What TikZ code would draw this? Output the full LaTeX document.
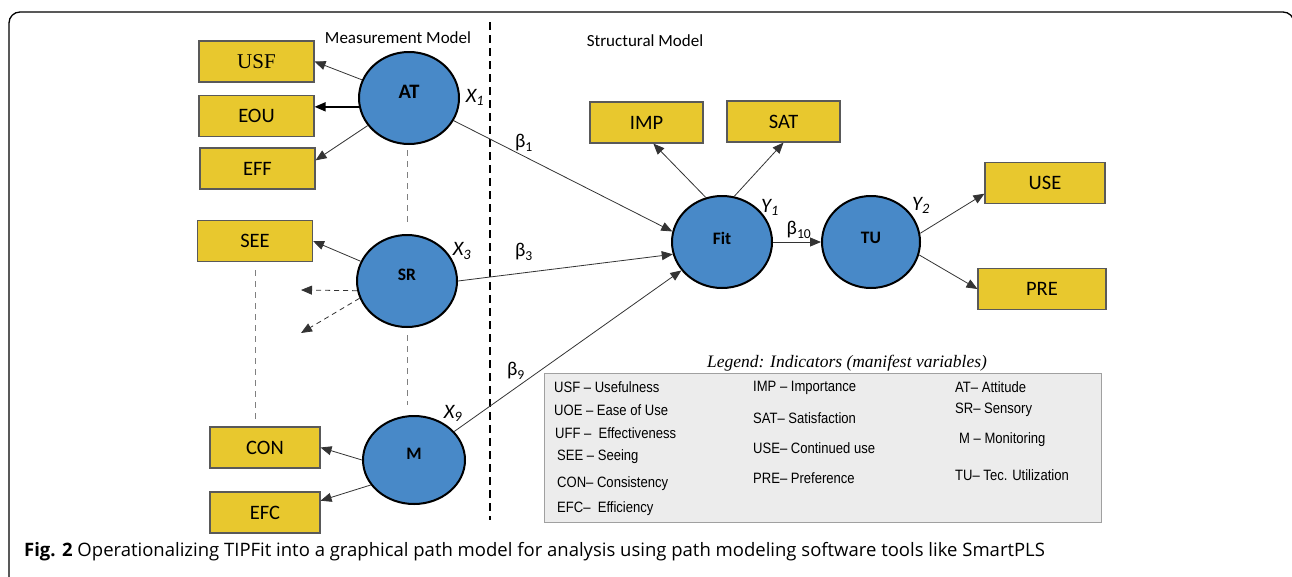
\documentclass[tikz,border=0pt]{standalone}
\usepackage{fontspec}
\setmainfont{Carlito}
\newfontfamily\boxserif{Liberation Serif}
\newfontfamily\legfont[FakeStretch=0.87]{Liberation Sans}
\newfontfamily\capfont{Open Sans}
\usetikzlibrary{arrows.meta,shapes.geometric}
\definecolor{indyellow}{RGB}{232,200,46}
\definecolor{latblue}{RGB}{72,137,200}
\definecolor{legfill}{RGB}{236,236,236}
\definecolor{leggray}{RGB}{160,160,160}
\begin{document}
\begin{tikzpicture}[x=1pt,y=-1pt,
  ind/.style={draw=black!65, line width=1.1pt, fill=indyellow, minimum width=115,
    minimum height=41, inner sep=0, font=\fontsize{20.5}{24}\selectfont},
  lat/.style={ellipse, draw=black, line width=2pt, fill=latblue, minimum width=100,
    minimum height=92, inner sep=0},
  latname/.style={font=\bfseries\fontsize{17.5}{20}\selectfont, yshift=6},
  arr/.style={draw=black!80, line width=0.8pt, -{Triangle[length=11,width=9]}},
  dasharr/.style={arr, dashed, dash pattern=on 5pt off 4pt},
  sep/.style={draw=black, line width=1.3pt, dash pattern=on 8pt off 5pt},
  thin dash/.style={draw=black!50, line width=0.9pt, dash pattern=on 6pt off 5pt},
  coef/.style={font=\fontsize{19.5}{22}\selectfont, inner sep=0},
  varlab/.style={font=\itshape\fontsize{20.5}{22}\selectfont, inner sep=0},
  legtxt/.style={anchor=west, inner sep=0, font=\legfont\fontsize{15}{18}\selectfont},
  title/.style={font=\fontsize{17}{20}\selectfont, inner sep=0}
]
\useasboundingbox (0,0) rectangle (1292,576);

% outer frame
\draw[line width=1.3pt, rounded corners=11] (9,620) -- (9,12) -- (1294,12) -- (1294,620);

% section titles and divider
\node[title] (mm) at (398,38) {Measurement Model};
\node[title] (sm) at (645,41) {Structural Model};
\coordinate (septop) at (490,22);
\coordinate (sepbot) at (490,520);
\draw[sep] (septop) -- (sepbot);

% indicator boxes
\node[ind, font=\boxserif\fontsize{21}{24}\selectfont] (USF) at (256.5,61.5) {USF};
\node[ind] (EOU) at (256.5,116) {EOU};
\node[ind] (EFF) at (257.5,168.5) {EFF};
\node[ind] (SEE) at (255,241) {SEE};
\node[ind, minimum width=110] (CON) at (265,447.5) {CON};
\node[ind, minimum width=110] (EFC) at (265,512.5) {EFC};
\node[ind, minimum width=113] (IMP) at (646.5,122.5) {IMP};
\node[ind, minimum width=113] (SAT) at (783.5,121.5) {SAT};
\node[ind, minimum width=120] (USE) at (1045,183) {USE};
\node[ind, minimum width=128] (PRE) at (1042,289) {PRE};

% latent variables
\node[lat] (AT) at (409,98) {};
\node[latname, font=\bfseries\fontsize{20.5}{22}\selectfont] (ATt) at (AT.center) {AT};
\node[lat] (SR) at (407,281) {};
\node[latname] (SRt) at (SR.center) {SR};
\node[lat, minimum width=102, minimum height=88] (M) at (414,460) {};
\node[latname] (Mt) at (M.center) {M};
\node[lat] (Fit) at (722,242) {};
\node[latname, yshift=-2] (Fitt) at (Fit.center) {Fit};
\node[lat, minimum width=98] (TU) at (871,242) {};
\node[latname, yshift=-2] (TUt) at (TU.center) {TU};

% dashed continuation guides
\coordinate (g1a) at (407,150); \coordinate (g1b) at (407,222);
\coordinate (g2a) at (407,335); \coordinate (g2b) at (407,405);
\coordinate (g3a) at (255,270); \coordinate (g3b) at (255,420);
\draw[thin dash] (g1a) -- (g1b);
\draw[thin dash] (g2a) -- (g2b);
\draw[thin dash] (g3a) -- (g3b);

% measurement arrows
\draw[arr] (AT) -- (USF.east);
\draw[arr, draw=black, line width=1.6pt] (AT.190) -- (AT.190 -| EOU.east);
\draw[arr] (AT) -- (EFF.8);
\draw[arr] (SR) -- (SEE.east);
\coordinate (d1) at (301,290);
\coordinate (d2) at (301,333);
\draw[dasharr] (SR.191) -- (d1);
\draw[dasharr] (SR.200) -- (d2);
\draw[arr] (M.west) -- (CON.east);
\draw[arr] (M.210) -- (EFC.12);

% structural paths
\draw[arr] (AT) -- (Fit.168);
\draw[arr] (SR.east) -- (Fit.194);
\draw[arr] (M) -- (Fit.215);
\draw[arr] (Fit.110) -- (IMP.-72);
\draw[arr] (Fit.75) -- (SAT.south);
\draw[arr] (Fit.east) -- (TU.west);
\draw[arr] (TU.10) -- (USE.190);
\draw[arr] (TU.-15) -- (PRE.west);

% variable and coefficient labels
\node[varlab] (x1) at (475,97) {X\textsubscript{1}};
\node[varlab] (x3) at (462,251) {X\textsubscript{3}};
\node[varlab] (x9) at (453,413) {X\textsubscript{9}};
\node[varlab] (y1) at (770,207) {Y\textsubscript{1}};
\node[varlab] (y2) at (921,205) {Y\textsubscript{2}};
\node[coef] (b1) at (524,143) {β\textsubscript{1}};
\node[coef] (b3) at (524,252) {β\textsubscript{3}};
\node[coef] (b9) at (516,371) {β\textsubscript{9}};
\node[coef] (b10) at (799,230) {β\textsubscript{10}};

% legend
\node[font=\boxserif\itshape\fontsize{17.5}{20}\selectfont, inner sep=0] (legtitle) at (847,363) {Legend: Indicators (manifest variables)};
\node[draw=leggray, line width=0.8pt, fill=legfill, minimum width=557, minimum height=149, inner sep=0] (legbox) at (822.5,447.5) {};
\node[legtxt] (l1) at (554,387) {USF – Usefulness};
\node[legtxt] (l2) at (554,410) {UOE – Ease of Use};
\node[legtxt] (l3) at (555,433) {UFF –\ \ Effectiveness};
\node[legtxt] (l4) at (557,457) {SEE – Seeing};
\node[legtxt] (l5) at (557,484) {CON– Consistency};
\node[legtxt] (l6) at (557,509) {EFC–\ \ Efficiency};
\node[legtxt] (l7) at (753,388) {IMP – Importance};
\node[legtxt] (l8) at (753,418) {SAT– Satisfaction};
\node[legtxt] (l9) at (753,448) {USE– Continued use};
\node[legtxt] (l10) at (753,478) {PRE– Preference};
\node[legtxt] (l11) at (955,387) {AT– Attitude};
\node[legtxt] (l12) at (955,410) {SR– Sensory};
\node[legtxt] (l13) at (959,440) {M – Monitoring};
\node[legtxt] (l14) at (955,475) {TU– Tec. Utilization};

% caption
\node[anchor=west, inner sep=0, font=\capfont\fontsize{18.5}{21}\selectfont] (cap) at (24,552)
  {\textbf{Fig. 2} Operationalizing TIPFit into a graphical path model for analysis using path modeling software tools like SmartPLS};
\end{tikzpicture}
\end{document}
